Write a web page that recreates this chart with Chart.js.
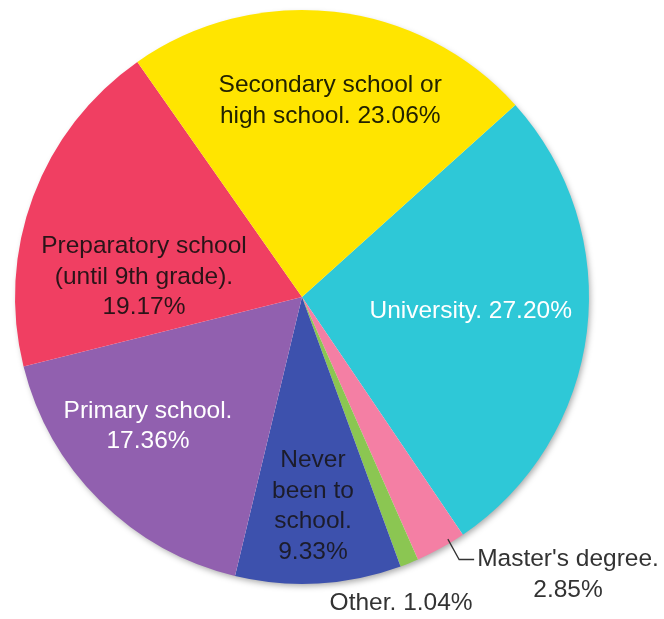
<!DOCTYPE html>
<html>
<head>
<meta charset="utf-8">
<script src="https://cdn.jsdelivr.net/npm/chart.js@4.4.1/dist/chart.umd.min.js"></script>
<style>
  html, body { margin: 0; padding: 0; background: #ffffff; }
  #wrap { position: relative; width: 664px; height: 619px; }
</style>
</head>
<body>
<div id="wrap"><canvas id="chart_1"></canvas></div>
<script>
// data, clockwise starting from the University slice
const categories = [
  "University",
  "Master's degree",
  "Other",
  "Never been to school",
  "Primary school",
  "Preparatory school (until 9th grade)",
  "Secondary school or high school",
];
const shares = [27.20, 2.85, 1.04, 9.33, 17.36, 19.17, 23.06];
const sliceColors = ["#2EC8D7", "#F47FA4", "#8BC652", "#3D51AD", "#9160AF", "#F03F62", "#FFE500"];

function pct(i) {
  return shares[i].toFixed(2) + "%";
}

// text of each label, split in lines as in the picture
const labelLines = [
  ["University. " + pct(0)],
  ["Master's degree.", pct(1)],
  ["Other. " + pct(2)],
  ["Never", "been to", "school.", pct(3)],
  ["Primary school.", pct(4)],
  ["Preparatory school", "(until 9th grade).", pct(5)],
  ["Secondary school or", "high school. " + pct(6)],
];

// where each label sits: angle offset from slice middle (deg) and radius fraction
const labelPlace = [
  { da: -2, f: 0.59, color: "#ffffff" },
  { da: -14.8, f: 1.34, color: "#333333", leader: true },
  { da: 4, f: 1.12, color: "#333333" },
  { da: 0.3, f: 0.73, color: "#1c1c2a" },
  { da: 5.3, f: 0.70, color: "#ffffff" },
  { da: -13.3, f: 0.555, color: "#2a1418" },
  { da: 1.7, f: 0.69, color: "#222200" },
];

const FONT = "24.5px 'Liberation Sans', Arial, sans-serif";
const LINE_H = 30.5;

const pieShadow = {
  id: "pieShadow",
  beforeDatasetsDraw(chart) {
    const arc = chart.getDatasetMeta(0).data[0];
    const ctx = chart.ctx;
    ctx.save();
    ctx.shadowColor = "rgba(0,0,0,0.35)";
    ctx.shadowBlur = 6;
    ctx.shadowOffsetX = 2;
    ctx.shadowOffsetY = 3;
    ctx.fillStyle = "#ffffff";
    ctx.beginPath();
    ctx.arc(arc.x, arc.y, arc.outerRadius - 1, 0, Math.PI * 2);
    ctx.fill();
    ctx.restore();
  },
};

const sliceLabels = {
  id: "sliceLabels",
  afterDatasetsDraw(chart) {
    const ctx = chart.ctx;
    const meta = chart.getDatasetMeta(0);
    ctx.save();
    ctx.font = FONT;
    ctx.textAlign = "center";
    ctx.textBaseline = "middle";
    meta.data.forEach(function (arc, i) {
      const p = labelPlace[i];
      const mid = (arc.startAngle + arc.endAngle) / 2;
      const a = mid + (p.da * Math.PI) / 180;
      const r = arc.outerRadius * p.f;
      const cx = arc.x + Math.cos(a) * r;
      const cy = arc.y + Math.sin(a) * r;
      const lines = labelLines[i];
      const y0 = cy - ((lines.length - 1) * LINE_H) / 2;
      ctx.fillStyle = p.color;
      lines.forEach(function (line, k) {
        ctx.fillText(line, cx, y0 + k * LINE_H);
      });
      if (p.leader) {
        const w = ctx.measureText(lines[0]).width;
        const left = cx - w / 2 - 3;
        const sa = mid - (2.1 * Math.PI) / 180;
        const sx = arc.x + Math.cos(sa) * arc.outerRadius * 0.985;
        const sy = arc.y + Math.sin(sa) * arc.outerRadius * 0.985;
        ctx.strokeStyle = "#333333";
        ctx.lineWidth = 1.3;
        ctx.beginPath();
        ctx.moveTo(sx, sy);
        ctx.lineTo(left - 15, y0);
        ctx.lineTo(left, y0);
        ctx.stroke();
      }
    });
    ctx.restore();
  },
};

const ctx1 = document.getElementById("chart_1").getContext("2d");
var myChart1 = new Chart(ctx1, {
  type: "pie",
  data: {
    labels: categories,
    datasets: [
      {
        data: shares,
        backgroundColor: sliceColors,
        borderWidth: 0,
      },
    ],
  },
  options: {
    responsive: true,
    maintainAspectRatio: false,
    animation: false,
    rotation: 48,
    layout: {
      padding: { left: 15, top: 10, right: 75, bottom: 35 },
    },
    plugins: {
      legend: { display: false },
      tooltip: { enabled: false },
    },
  },
  plugins: [pieShadow, sliceLabels],
});
</script>
</body>
</html>
